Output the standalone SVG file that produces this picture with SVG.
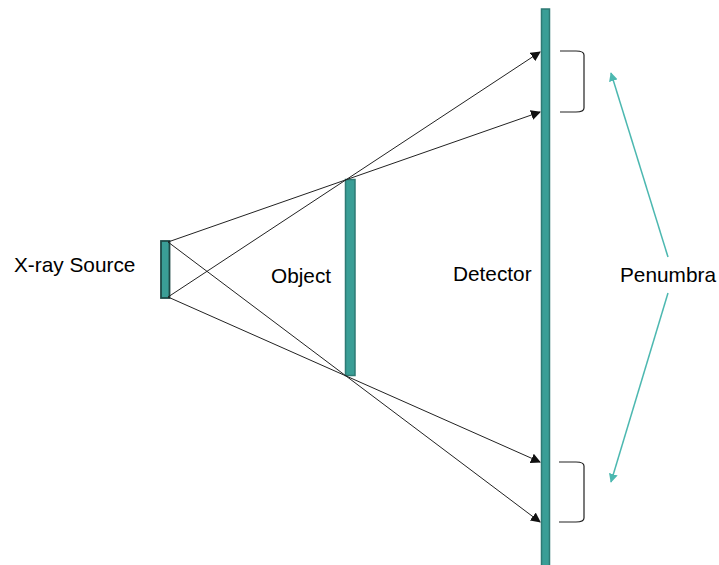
<svg xmlns="http://www.w3.org/2000/svg" width="719" height="565" viewBox="0 0 719 565">
<style>
.lbl{font-family:"Liberation Sans",Arial,sans-serif;font-size:20.8px;fill:#000}
.ray{stroke:#222;stroke-width:1;fill:none}
.bar{fill:#3a9e96;stroke:#2e7a74;stroke-width:1.5}
.brk{stroke:#222;stroke-width:1.2;fill:none}
.pen{stroke:#4cb8b0;stroke-width:1.5;fill:none}
</style>
<defs>
<marker id="ah" viewBox="0 0 10 10" refX="9" refY="5" markerWidth="10" markerHeight="10" markerUnits="userSpaceOnUse" orient="auto"><path d="M0,0 L10,5 L0,10 z" fill="#111"/></marker>
<marker id="ta" viewBox="0 0 10 10" refX="9" refY="5" markerWidth="9" markerHeight="9" markerUnits="userSpaceOnUse" orient="auto"><path d="M0,0 L10,5 L0,10 z" fill="#4cb8b0"/></marker>
</defs>
<g id="detector"><rect class="bar" x="541.5" y="9" width="8" height="560"/><text class="lbl" x="453" y="281">Detector</text></g>
<g id="source"><rect x="161" y="241" width="8.5" height="57" fill="#3a9e96" stroke="#1f4a47" stroke-width="1.8"/><text class="lbl" x="14" y="272">X-ray Source</text></g>
<g id="object"><rect class="bar" x="345.5" y="179.5" width="9.5" height="196"/><text class="lbl" x="271" y="283">Object</text></g>
<g id="connectors">
<line class="ray" x1="168" y1="242" x2="540" y2="112" marker-end="url(#ah)"/>
<line class="ray" x1="168" y1="297" x2="540" y2="52" marker-end="url(#ah)"/>
<line class="ray" x1="168" y1="242" x2="540" y2="522" marker-end="url(#ah)"/>
<line class="ray" x1="168" y1="297" x2="540" y2="462" marker-end="url(#ah)"/>
</g>
<g id="brackets">
<path class="brk" d="M560,51 L576,51 Q584,51 584,55 L584,108 Q584,112 576,112 L560,112"/>
<path class="brk" d="M559,462 L576,462 Q584,462 584,466 L584,518 Q584,522 576,522 L559,522"/>
</g>
<g id="penumbra"><text class="lbl" x="620" y="282">Penumbra</text>
<line class="pen" x1="668" y1="257" x2="611" y2="73" marker-end="url(#ta)"/>
<line class="pen" x1="668" y1="293" x2="611" y2="482" marker-end="url(#ta)"/>
</g>
</svg>
